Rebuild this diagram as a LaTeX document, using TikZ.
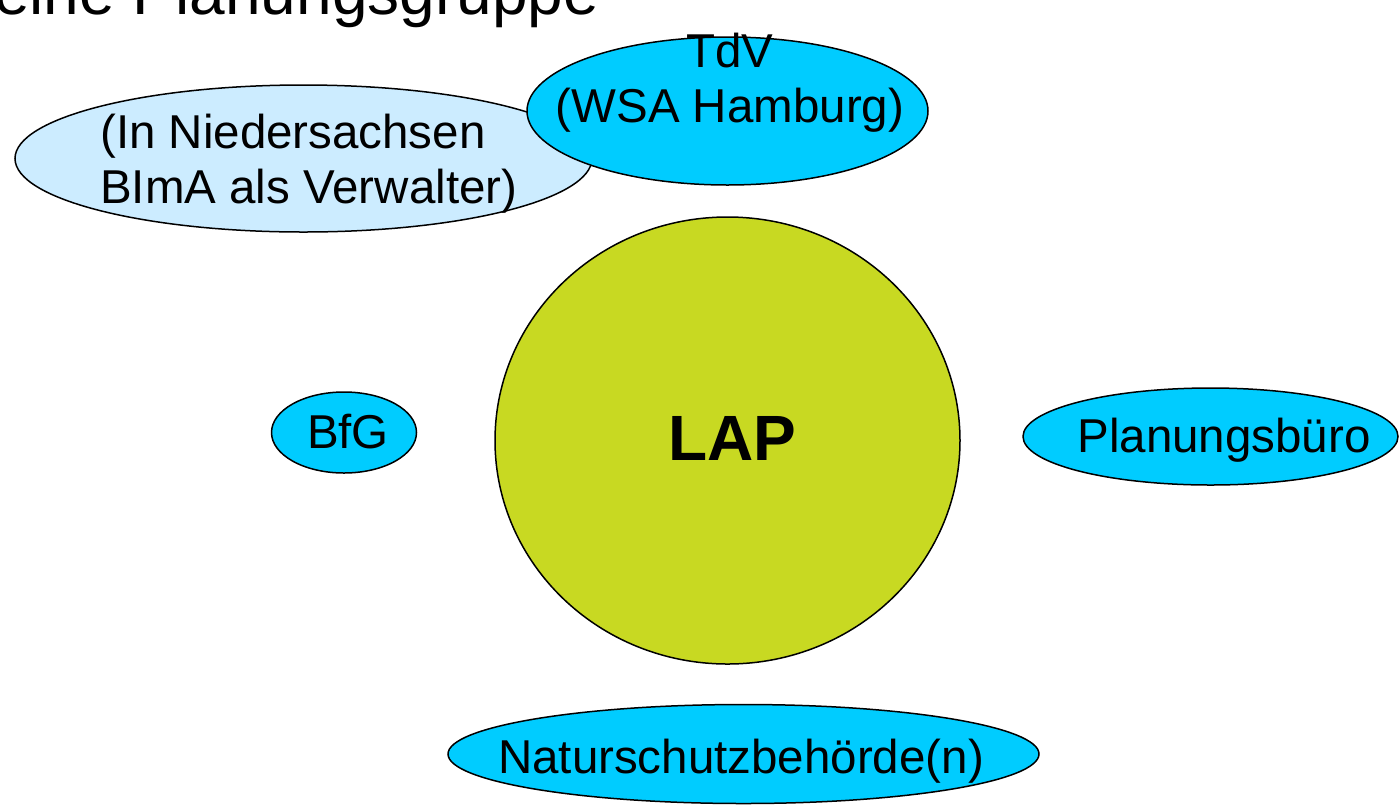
\documentclass[tikz,border=0pt]{standalone}
\usepackage{fontspec}
\setmainfont{Liberation Sans}
\usetikzlibrary{shapes.geometric}
\definecolor{cyanfill}{HTML}{00CCFF}
\definecolor{lightfill}{HTML}{CCECFF}
\definecolor{lapfill}{RGB}{200,217,34}
\tikzset{
  ell/.style={ellipse, draw=black, line width=1.5pt, inner sep=0pt},
  txt/.style={inner sep=0pt, font=\fontsize{47.5}{55}\selectfont, text=black},
}
\begin{document}
\begin{tikzpicture}[x=1pt, y=-1pt]
\useasboundingbox (0,0) rectangle (1399,804);
% title (cut off at top)
\node[inner sep=0pt, anchor=base west, font=\fontsize{64}{72}\selectfont] (title) at (-6,14) {eine Planungsgruppe};
% BImA ellipse
\node[ell, fill=lightfill, minimum width=577pt, minimum height=147pt] (bima) at (303.5,158.5) {};
\node[txt, anchor=base west] (bimaA) at (100,148) {(In Niedersachsen};
\node[txt, anchor=base west] (bimaB) at (100,203) {BImA als Verwalter)};
% TdV ellipse
\node[ell, fill=cyanfill, minimum width=401pt, minimum height=148pt] (tdv) at (727.5,111) {};
\node[txt, anchor=base] (tdvA) at (730,67) {TdV};
\node[txt, anchor=base] (tdvB) at (730,122) {(WSA Hamburg)};
% LAP
\node[ell, fill=lapfill, minimum width=465pt, minimum height=447pt] (lap) at (727.5,440.5) {};
\node[inner sep=0pt, anchor=base, font=\fontsize{64}{72}\selectfont\bfseries] (lapT) at (732,460) {LAP};
% BfG
\node[ell, fill=cyanfill, minimum width=145pt, minimum height=81pt] (bfg) at (344,432.5) {};
\node[txt, anchor=base] (bfgT) at (348,448) {BfG};
% Planungsbuero
\node[ell, fill=cyanfill, minimum width=375pt, minimum height=97pt] (pb) at (1210.5,436.5) {};
\node[txt, anchor=base] (pbT) at (1224,452) {Planungsbüro};
% Naturschutz
\node[ell, fill=cyanfill, minimum width=591pt, minimum height=99pt] (ns) at (743.5,754) {};
\node[txt, anchor=base] (nsT) at (741,773) {Naturschutzbehörde(n)};
\end{tikzpicture}
\end{document}
